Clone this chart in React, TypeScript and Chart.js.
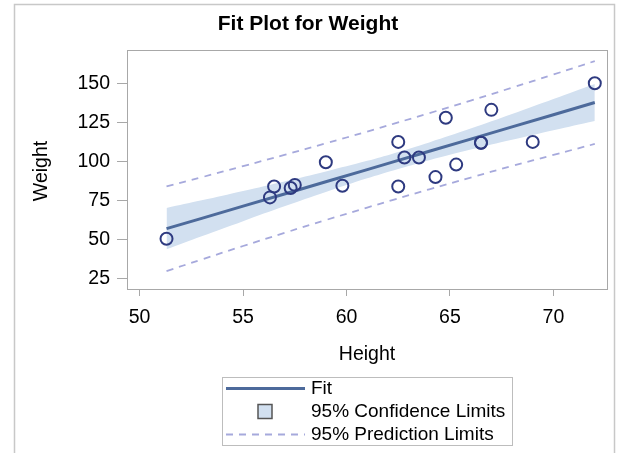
import React, { useEffect, useRef } from 'react';
import { Chart, registerables } from 'chart.js';

Chart.register(...registerables);

// Observations (Height, Weight)
const heights = [69.0, 56.5, 65.3, 62.8, 63.5, 57.3, 59.8, 62.5, 62.5, 59.0, 51.3, 64.3, 56.3, 66.5, 72.0, 64.8, 67.0, 57.5, 66.5];
const weights = [112.5, 84.0, 98.0, 102.5, 102.5, 83.0, 84.5, 112.5, 84.0, 99.5, 50.5, 90.0, 77.0, 112.0, 150.0, 128.0, 133.0, 85.0, 112.0];

// Fit line and limits
const curveX = [51.3, 53, 55, 57, 59, 61, 62.3, 64, 66, 68, 70, 72];
const fitY = [57.0, 63.6, 71.4, 79.2, 87.0, 94.8, 99.9, 106.5, 114.3, 122.1, 129.9, 137.7];
const clmLower = [43.8, 52.1, 61.8, 71.3, 80.5, 89.2, 94.4, 100.8, 107.6, 113.9, 120.0, 125.9];
const clmUpper = [70.2, 75.1, 81.1, 87.2, 93.6, 100.4, 105.3, 112.2, 121.0, 130.3, 139.9, 149.5];
const pLower = [29.9, 37.3, 45.9, 54.3, 62.5, 70.5, 75.6, 82.2, 89.7, 97.1, 104.2, 111.2];
const pUpper = [84.1, 89.9, 97.0, 104.2, 111.6, 119.1, 124.2, 130.9, 138.9, 147.2, 155.6, 164.2];

const xTicks = [50, 55, 60, 65, 70];
const yTicks = [25, 50, 75, 100, 125, 150];

const titleText = 'Fit Plot for Weight';
const xTitle = 'Height';
const yTitle = 'Weight';
const legendLabels = ['Fit', '95% Confidence Limits', '95% Prediction Limits'];

const FONT = '"Liberation Sans", Arial, Helvetica, sans-serif';
const FIT_COLOR = '#4d6a9b';
const MARKER_COLOR = '#2e3a80';
const BAND_COLOR = '#d2e0f0';
const PRED_COLOR = '#a6a9dc';
const AXIS_COLOR = '#a8a8a8';
const DASH = [7, 6];

const decorPlugin = {
  id: 'decor',
  afterDraw(chart: any) {
    const ctx = chart.ctx as CanvasRenderingContext2D;
    const a = chart.chartArea;
    ctx.save();
    // outer border
    ctx.strokeStyle = '#c8c8c8';
    ctx.lineWidth = 1.5;
    ctx.strokeRect(14.5, 4.5, 600, 460);
    // plot frame
    ctx.strokeStyle = AXIS_COLOR;
    ctx.lineWidth = 1;
    ctx.strokeRect(Math.round(a.left) + 0.5, Math.round(a.top) + 0.5, Math.round(a.right - a.left), Math.round(a.bottom - a.top));
    // title
    ctx.fillStyle = '#000';
    ctx.font = `bold 21px ${FONT}`;
    ctx.textAlign = 'center';
    ctx.textBaseline = 'middle';
    ctx.fillText(titleText, 308, 24);
    // x title
    ctx.font = `19.5px ${FONT}`;
    ctx.fillText(xTitle, (a.left + a.right) / 2, 355);
    // y title
    ctx.save();
    ctx.translate(42, 171);
    ctx.rotate(-Math.PI / 2);
    ctx.fillText(yTitle, 0, 0);
    ctx.restore();
    // legend box
    ctx.strokeStyle = '#bdbdbd';
    ctx.lineWidth = 1;
    ctx.strokeRect(222.5, 377.5, 290, 68);
    const rows = [388.5, 411.5, 434.5];
    // fit line
    ctx.strokeStyle = FIT_COLOR;
    ctx.lineWidth = 3;
    ctx.beginPath();
    ctx.moveTo(226, rows[0]);
    ctx.lineTo(305, rows[0]);
    ctx.stroke();
    // band square
    ctx.fillStyle = BAND_COLOR;
    ctx.fillRect(258, rows[1] - 7, 14, 14);
    ctx.strokeStyle = '#555';
    ctx.lineWidth = 1.5;
    ctx.strokeRect(258, rows[1] - 7, 14, 14);
    // prediction dashed
    ctx.strokeStyle = PRED_COLOR;
    ctx.lineWidth = 1.8;
    ctx.setLineDash(DASH);
    ctx.beginPath();
    ctx.moveTo(226, rows[2]);
    ctx.lineTo(305, rows[2]);
    ctx.stroke();
    ctx.setLineDash([]);
    ctx.fillStyle = '#000';
    ctx.font = `19px ${FONT}`;
    ctx.textAlign = 'left';
    ctx.textBaseline = 'middle';
    legendLabels.forEach((t, i) => ctx.fillText(t, 311, rows[i]));
    ctx.restore();
  },
};

export default function App() {
  const ref = useRef<HTMLCanvasElement | null>(null);
  useEffect(() => {
    if (!ref.current) return;
    const pts = (ys: number[]) => curveX.map((x, i) => ({ x, y: ys[i] }));
    const chart = new Chart(ref.current, {
      type: 'scatter',
      data: {
        datasets: [
          {
            label: 'Weight',
            data: heights.map((h, i) => ({ x: h, y: weights[i] })),
            pointStyle: 'circle',
            pointRadius: 6,
            pointBorderWidth: 2,
            pointBorderColor: MARKER_COLOR,
            pointBackgroundColor: 'rgba(0,0,0,0)',
            showLine: false,
          },
          {
            label: 'Fit',
            data: pts(fitY),
            showLine: true,
            borderColor: FIT_COLOR,
            borderWidth: 3,
            pointRadius: 0,
          },
          {
            label: 'Pred upper',
            data: pts(pUpper),
            showLine: true,
            borderColor: PRED_COLOR,
            borderWidth: 1.8,
            borderDash: DASH,
            pointRadius: 0,
            tension: 0.4,
          },
          {
            label: 'Pred lower',
            data: pts(pLower),
            showLine: true,
            borderColor: PRED_COLOR,
            borderWidth: 1.8,
            borderDash: DASH,
            pointRadius: 0,
            tension: 0.4,
          },
          {
            label: 'CLM upper',
            data: pts(clmUpper),
            showLine: true,
            borderWidth: 0,
            borderColor: 'rgba(0,0,0,0)',
            backgroundColor: BAND_COLOR,
            pointRadius: 0,
            tension: 0.4,
            fill: '+1',
          },
          {
            label: 'CLM lower',
            data: pts(clmLower),
            showLine: true,
            borderWidth: 0,
            borderColor: 'rgba(0,0,0,0)',
            pointRadius: 0,
            tension: 0.4,
            fill: false,
          },
        ],
      },
      options: {
        animation: false,
        responsive: false,
        layout: { padding: { top: 50, right: 12, bottom: 0, left: 0 } },
        plugins: {
          legend: { display: false },
          title: { display: false },
          tooltip: { enabled: false },
        },
        scales: {
          x: {
            type: 'linear',
            min: 49.39,
            max: 72.59,
            afterFit: (s: any) => { s.height = 164; },
            afterBuildTicks: (s: any) => { s.ticks = xTicks.map((v) => ({ value: v })); },
            border: { display: true, color: AXIS_COLOR },
            grid: { display: true, drawOnChartArea: false, drawTicks: true, tickLength: 7, color: AXIS_COLOR },
            ticks: {
              color: '#000',
              font: { family: FONT, size: 19.5 },
              padding: 10,
              maxRotation: 0,
              autoSkip: false,
            },
          },
          y: {
            type: 'linear',
            min: 18.4,
            max: 171.3,
            afterFit: (s: any) => { s.width = 127; },
            afterBuildTicks: (s: any) => { s.ticks = yTicks.map((v) => ({ value: v })); },
            border: { display: true, color: AXIS_COLOR },
            grid: { display: true, drawOnChartArea: false, drawTicks: true, tickLength: 10, color: AXIS_COLOR },
            ticks: {
              color: '#000',
              font: { family: FONT, size: 19.5 },
              padding: 7,
              autoSkip: false,
            },
          },
        },
      },
      plugins: [decorPlugin],
    });
    return () => chart.destroy();
  }, []);
  return (
    <div style={{ position: 'fixed', left: 0, top: 0, width: 619, height: 453, background: '#fff' }}>
      <canvas ref={ref} width={619} height={453} style={{ display: 'block' }} />
    </div>
  );
}
